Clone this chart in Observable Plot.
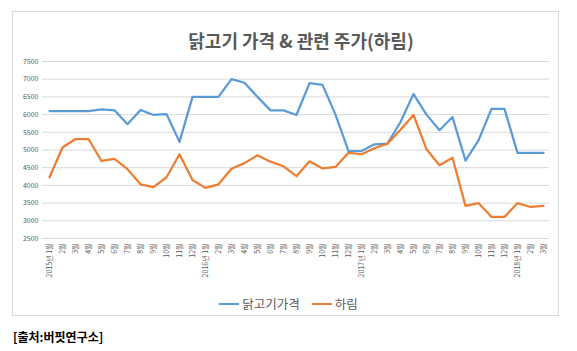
<!DOCTYPE html>
<html><head><meta charset="utf-8">
<script src="https://cdn.jsdelivr.net/npm/d3@7"></script>
<script src="https://cdn.jsdelivr.net/npm/@observablehq/plot@0.6"></script>
<style>
body{margin:0;background:#fff;font-family:"Noto Sans CJK KR","Noto Sans",sans-serif;}
#wrap{position:relative;width:577px;height:351px;overflow:hidden;}
#frame{position:absolute;left:12px;top:11px;width:547px;height:305px;border:1px solid #d9d9d9;box-sizing:border-box;}
#title{position:absolute;left:0;width:602px;top:27px;text-align:center;font-size:18px;font-weight:bold;color:#595959;}
#legend{position:absolute;left:0;width:577px;top:290px;text-align:center;font-size:12.5px;color:#595959;}
#legend span{display:inline-flex;align-items:center;margin:0 6px;}
#legend i{display:inline-block;width:20px;height:2.5px;margin-right:3px;}
#cap{position:absolute;left:13px;top:328px;font-size:12px;font-weight:bold;color:#000;}
#chart{position:absolute;left:0;top:0;}
</style></head>
<body><div id="wrap"><div id="frame"></div><div id="chart"></div>
<div id="title">닭고기 가격 &amp; 관련 주가(하림)</div>
<div id="legend"><span><i style="background:#5b9bd5"></i>닭고기가격</span><span><i style="background:#ed7d31"></i>하림</span></div>
<div id="cap">[출처:버핏연구소]</div></div>
<script>
const months = ["2015년 1월","2월","3월","4월","5월","6월","7월","8월","9월","10월","11월","12월",
"2016년 1월","2월","3월","4월","5월","6월","7월","8월","9월","10월","11월","12월",
"2017년 1월","2월","3월","4월","5월","6월","7월","8월","9월","10월","11월","12월",
"2018년 1월","2월","3월"];
const chicken = [6100,6100,6100,6100,6150,6120,5730,6130,5990,6015,5230,6500,
6500,6500,7000,6900,6500,6120,6120,5990,6890,6840,6000,4970,
4970,5160,5180,5790,6580,6000,5560,5930,4700,5270,6160,6160,4920,4920,4920];
const harim = [4230,5070,5310,5310,4690,4750,4460,4030,3950,4230,4880,4150,
3930,4030,4470,4630,4850,4670,4540,4260,4680,4480,4520,4920,
4880,5050,5180,5570,5990,5020,4570,4780,3420,3500,3110,3110,3500,3390,3420];
const yTicks = [2500,3000,3500,4000,4500,5000,5500,6000,6500,7000,7500];
const idx = months.map((_, i) => i);
const data = idx.flatMap(i=>[
  {i, v: chicken[i], s:"닭고기가격"},
  {i, v: harim[i], s:"하림"}]);
const chart = Plot.plot({
  width:577, height:351,
  marginLeft:42, marginRight:28, marginTop:61, marginBottom:113,
  style:{fontFamily:"'Noto Sans CJK KR','Noto Sans',sans-serif", color:"#595959", background:"transparent"},
  x:{type:"point", domain:idx, padding:0.5},
  y:{domain:[2500,7500]},
  color:{domain:["닭고기가격","하림"], range:["#5b9bd5","#ed7d31"]},
  marks:[
    Plot.gridY(yTicks,{stroke:"#d9d9d9", strokeOpacity:1}),
    Plot.axisY(yTicks,{tickSize:0, fontSize:7, tickPadding:4, label:null, tickFormat:d=>String(d)}),
    Plot.axisX(idx,{tickSize:0, tickRotate:-90, fontSize:7, tickPadding:5, label:null, tickFormat:i=>months[i]}),
    Plot.line(data,{x:"i", y:"v", z:"s", stroke:"s", strokeWidth:2.25})
  ]
});
document.getElementById("chart").appendChild(chart);
</script></body></html>
